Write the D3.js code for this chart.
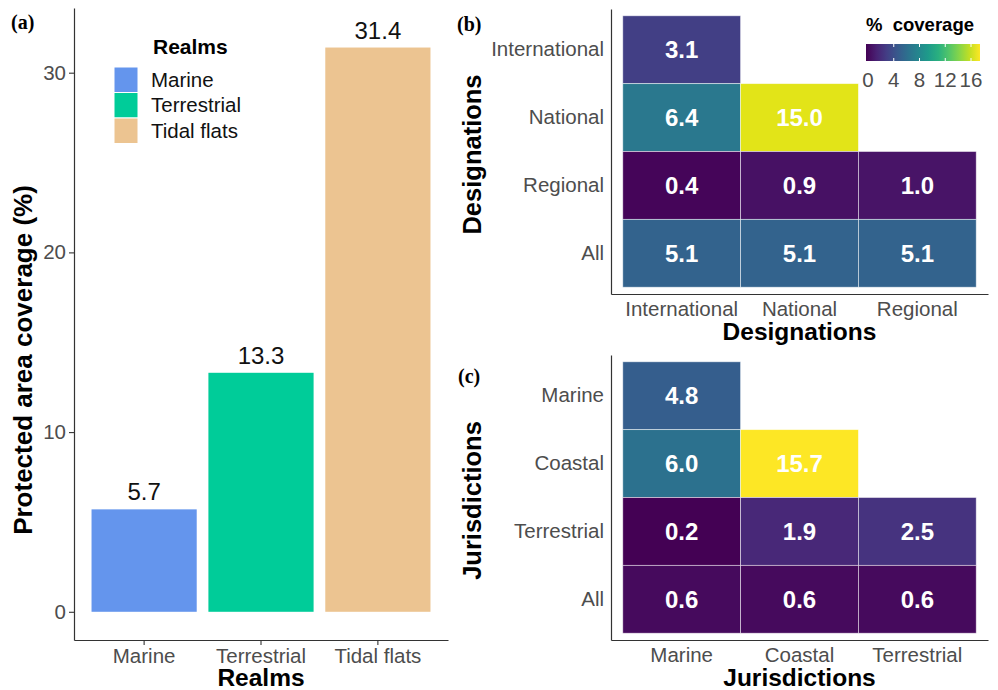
<!DOCTYPE html>
<html>
<head>
<meta charset="utf-8">
<script src="https://cdn.jsdelivr.net/npm/d3@7"></script>
<style>
  body { margin: 0; background: #fff; }
  svg { font-family: "Liberation Sans", Arial, sans-serif; }
</style>
</head>
<body>
<div id="chart"></div>
<script>
// Datos del panel (a)
const realms = ["Marine", "Terrestrial", "Tidal flats"]
const realmCoverage = [5.7, 13.3, 31.4]
const realmColors = ["#6495ED", "#00CC99", "#ECC491"]
const realmTicks = [0, 10, 20, 30]

// Datos del panel (b)
const designationCols = ["International", "National", "Regional"]
const designationRows = ["International", "National", "Regional", "All"]
const designationValues = [
    [3.1, null, null],
    [6.4, 15.0, null],
    [0.4, 0.9, 1.0],
    [5.1, 5.1, 5.1]
]

// Datos del panel (c)
const jurisdictionCols = ["Marine", "Coastal", "Terrestrial"]
const jurisdictionRows = ["Marine", "Coastal", "Terrestrial", "All"]
const jurisdictionValues = [
    [4.8, null, null],
    [6.0, 15.7, null],
    [0.2, 1.9, 2.5],
    [0.6, 0.6, 0.6]
]

const colorbarTicks = [0, 4, 8, 12, 16]

const width = 998
const height = 690
const tickColor = "#4d4d4d"
const axisColor = "#333"

const svg = d3.select("#chart")
    .append("svg")
    .attr("width", width)
    .attr("height", height)

// ---------- Panel (a): barras ----------
const x = d3.scaleBand().domain(realms).range([74, 448]).paddingInner(0.1).paddingOuter(0.15)
const y = d3.scaleLinear().domain([-1.57, 33.6]).range([640, 8])

const barGroup = svg.append("g").attr("class", "bars")
barGroup.selectAll("rect")
    .data(realms)
    .enter()
    .append("rect")
    .attr("x", d => x(d))
    .attr("y", (d, i) => y(realmCoverage[i]))
    .attr("width", x.bandwidth())
    .attr("height", (d, i) => y(0) - y(realmCoverage[i]))
    .attr("fill", (d, i) => realmColors[i])

barGroup.selectAll("text")
    .data(realms)
    .enter()
    .append("text")
    .attr("x", d => x(d) + x.bandwidth() / 2)
    .attr("y", (d, i) => y(realmCoverage[i]) - 9)
    .attr("text-anchor", "middle")
    .attr("font-size", 24)
    .attr("fill", "#111")
    .text((d, i) => realmCoverage[i].toFixed(1))

const xAxisA = svg.append("g")
    .attr("transform", "translate(0, 640)")
    .call(d3.axisBottom(x).tickSize(5).tickPadding(3).tickSizeOuter(0))
const yAxisA = svg.append("g")
    .attr("transform", "translate(74, 0)")
    .call(d3.axisLeft(y).tickValues(realmTicks).tickSize(5).tickPadding(3).tickSizeOuter(0))

function styleAxis(g) {
    g.attr("font-family", null).attr("font-size", null)
    g.select(".domain").attr("stroke", axisColor).attr("stroke-width", 1.2)
    g.selectAll(".tick line").attr("stroke", axisColor).attr("stroke-width", 1.1)
    g.selectAll(".tick text").attr("fill", tickColor).attr("font-size", 20.5)
}
styleAxis(xAxisA)
styleAxis(yAxisA)

svg.append("text")
    .attr("x", 261).attr("y", 686)
    .attr("text-anchor", "middle")
    .attr("font-weight", "bold").attr("font-size", 24.5)
    .text("Realms")

svg.append("text")
    .attr("transform", "translate(32, 360) rotate(-90)")
    .attr("text-anchor", "middle")
    .attr("font-weight", "bold").attr("font-size", 26)
    .text("Protected area coverage (%)")

// Leyenda de realms
const legendA = svg.append("g").attr("transform", "translate(114, 0)")
legendA.append("text")
    .attr("x", 39).attr("y", 54)
    .attr("font-weight", "bold").attr("font-size", 21)
    .text("Realms")
legendA.selectAll("rect")
    .data(realms)
    .enter()
    .append("rect")
    .attr("x", 0)
    .attr("y", (d, i) => 67 + i * 25.5)
    .attr("width", 24)
    .attr("height", 25.5)
    .attr("fill", (d, i) => realmColors[i])
    .attr("stroke", "#fff")
    .attr("stroke-width", 1)
legendA.selectAll("text.lab")
    .data(realms)
    .enter()
    .append("text")
    .attr("class", "lab")
    .attr("x", 37)
    .attr("y", (d, i) => 67 + i * 25.5 + 12.75)
    .attr("dy", "0.35em")
    .attr("font-size", 20.5)
    .attr("fill", "#111")
    .text(d => d)

// ---------- Heatmaps (b) y (c) ----------
const allValues = designationValues.flat().concat(jurisdictionValues.flat()).filter(v => v != null)
const color = d3.scaleSequential(d3.interpolateViridis).domain(d3.extent(allValues))

function heatmap(cols, rows, values, top, bottom, title) {
    const hx = d3.scaleBand().domain(cols).range([611, 988]).paddingOuter(0.1).paddingInner(0)
    const hy = d3.scaleBand().domain(rows).range([top, bottom]).paddingOuter(0.1).paddingInner(0)

    const cells = []
    rows.forEach((r, i) => cols.forEach((c, j) => {
        if (values[i][j] != null) cells.push({row: r, col: c, value: values[i][j]})
    }))

    const g = svg.append("g")
    g.selectAll("rect")
        .data(cells)
        .enter()
        .append("rect")
        .attr("x", d => hx(d.col))
        .attr("y", d => hy(d.row))
        .attr("width", hx.bandwidth())
        .attr("height", hy.bandwidth())
        .attr("fill", d => color(d.value))
        .attr("stroke", "#fff")
        .attr("stroke-opacity", 0.6)
        .attr("stroke-width", 0.8)

    g.selectAll("text")
        .data(cells)
        .enter()
        .append("text")
        .attr("x", d => hx(d.col) + hx.bandwidth() / 2)
        .attr("y", d => hy(d.row) + hy.bandwidth() / 2)
        .attr("dy", "0.36em")
        .attr("text-anchor", "middle")
        .attr("fill", "#fff")
        .attr("font-weight", "bold")
        .attr("font-size", 24)
        .text(d => d.value.toFixed(1))

    const xa = svg.append("g")
        .attr("transform", `translate(0, ${bottom})`)
        .call(d3.axisBottom(hx).tickSize(0).tickPadding(7.5).tickSizeOuter(0))
    const ya = svg.append("g")
        .attr("transform", "translate(611, 0)")
        .call(d3.axisLeft(hy).tickSize(0).tickPadding(7).tickSizeOuter(0))
    styleAxis(xa)
    styleAxis(ya)

    svg.append("text")
        .attr("x", (611 + 988) / 2).attr("y", bottom + 46)
        .attr("text-anchor", "middle")
        .attr("font-weight", "bold").attr("font-size", 24.5)
        .text(title)
    svg.append("text")
        .attr("transform", `translate(481, ${(top + bottom) / 2 + 3}) rotate(-90)`)
        .attr("text-anchor", "middle")
        .attr("font-weight", "bold").attr("font-size", 25.5)
        .text(title)
}

heatmap(designationCols, designationRows, designationValues, 9, 294, "Designations")
heatmap(jurisdictionCols, jurisdictionRows, jurisdictionValues, 355, 640, "Jurisdictions")

// Barra de color
const defs = svg.append("defs")
const grad = defs.append("linearGradient").attr("id", "viridis")
const stops = d3.quantize(d3.interpolate(color.domain()[0], color.domain()[1]), 12)
grad.selectAll("stop")
    .data(stops)
    .enter()
    .append("stop")
    .attr("offset", (d, i) => i / (stops.length - 1))
    .attr("stop-color", d => color(d))

const legendX = d3.scaleLinear().domain([0, 16]).range([868, 971])
svg.append("text")
    .attr("x", 866).attr("y", 31)
    .attr("font-weight", "bold").attr("font-size", 18.5)
    .style("white-space", "pre")
    .text("%  coverage")
svg.append("rect")
    .attr("x", 866).attr("y", 44)
    .attr("width", 114).attr("height", 17)
    .attr("fill", "url(#viridis)")
const cbTicks = svg.append("g")
cbTicks.selectAll("line.top")
    .data(colorbarTicks.slice(1))
    .enter()
    .append("line")
    .attr("x1", d => legendX(d)).attr("x2", d => legendX(d))
    .attr("y1", 44).attr("y2", 47)
    .attr("stroke", "#fff")
cbTicks.selectAll("line.bottom")
    .data(colorbarTicks.slice(1))
    .enter()
    .append("line")
    .attr("x1", d => legendX(d)).attr("x2", d => legendX(d))
    .attr("y1", 58).attr("y2", 61)
    .attr("stroke", "#fff")
cbTicks.selectAll("text")
    .data(colorbarTicks)
    .enter()
    .append("text")
    .attr("x", d => legendX(d))
    .attr("y", 87)
    .attr("text-anchor", "middle")
    .attr("font-size", 20.5)
    .attr("fill", tickColor)
    .text(d => d)

// Etiquetas de panel
const panelLabels = [["(a)", 11, 29], ["(b)", 457, 31], ["(c)", 458, 383]]
svg.selectAll("text.panel")
    .data(panelLabels)
    .enter()
    .append("text")
    .attr("class", "panel")
    .attr("x", d => d[1]).attr("y", d => d[2])
    .attr("font-family", "'Liberation Serif', 'Times New Roman', serif")
    .attr("font-weight", "bold")
    .attr("font-size", 20)
    .text(d => d[0])
</script>
</body>
</html>
